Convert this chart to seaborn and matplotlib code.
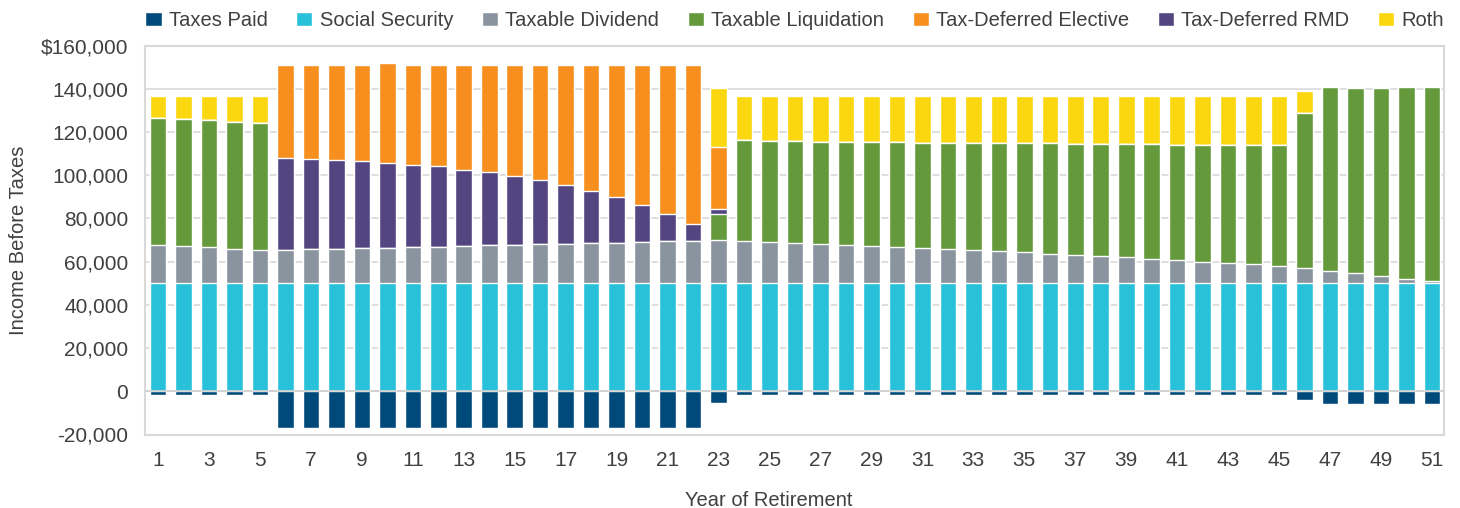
import pandas as pd
import seaborn as sns
import matplotlib.pyplot as plt
from matplotlib.patches import Patch
from matplotlib.ticker import FuncFormatter

# Year of retirement
years = list(range(1, 52))

# Income components, $ thousands
taxes_paid = [-1.8, -1.8, -1.8, -1.8, -1.8,
              -17.2, -17.2, -17.2, -17.2, -17.2, -17.2, -17.2, -17.2,
              -16.8, -16.8, -16.8, -16.8, -16.8, -16.8, -16.8, -16.8, -16.8,
              -5.5,
              -1.8, -1.8, -1.8, -1.8, -1.8, -1.8, -1.8, -1.8, -1.8, -1.8, -1.8,
              -1.8, -1.8, -1.8, -1.8, -1.8, -1.8, -1.8, -1.8, -1.8, -1.8, -1.8,
              -4.2,
              -6.0, -6.0, -6.0, -6.0, -6.0]

social_security = [50, 50, 50, 50, 50, 50, 50, 50, 50, 50,
                   50, 50, 50, 50, 50, 50, 50, 50, 50, 50,
                   50, 50, 50, 50, 50, 50, 50, 50, 50, 50,
                   50, 50, 50, 50, 50, 50, 50, 50, 50, 50,
                   50, 50, 50, 50, 50, 50, 50, 50, 50, 50, 50]

taxable_dividend = [17.7, 17.2, 16.8, 15.8, 15.4, 15.4, 15.8, 15.8, 16.3, 16.3,
                    16.8, 16.8, 17.2, 17.7, 17.7, 18.2, 18.2, 18.6, 18.6, 19.1,
                    19.5, 19.5, 20.0, 19.5, 19.1, 18.6, 18.2, 17.7, 17.2, 16.8,
                    16.3, 15.8, 15.4, 14.9, 14.5, 13.5, 13.1, 12.6, 12.2, 11.2,
                    10.8, 9.8, 9.4, 8.9, 8.0, 7.1, 5.7, 4.8, 3.4, 2.0, 1.1]

taxable_liquidation = [58.6, 58.6, 58.6, 58.7, 58.6,
                       0, 0, 0, 0, 0, 0, 0, 0, 0, 0, 0, 0, 0, 0, 0, 0, 0,
                       12.0,
                       46.7, 46.6, 47.1, 47.0, 47.5, 48.0, 48.4, 48.5, 49.0, 49.4, 49.9,
                       50.3, 51.3, 51.2, 51.7, 52.1, 53.1, 53.0, 54.0, 54.4, 54.9, 55.8,
                       71.7, 84.9, 85.4, 86.8, 88.6, 89.5]

tax_deferred_rmd = [0, 0, 0, 0, 0,
                    42.4, 41.6, 41.1, 40.2, 39.2, 37.8, 37.4, 35.1, 33.7, 31.8,
                    29.5, 27.2, 24.0, 21.2, 17.1, 12.5, 7.9,
                    2.3,
                    0, 0, 0, 0, 0, 0, 0, 0, 0, 0, 0, 0, 0, 0,
                    0, 0, 0, 0, 0, 0, 0, 0, 0, 0, 0, 0, 0, 0]

tax_deferred_elective = [0, 0, 0, 0, 0,
                         43.4, 43.8, 44.3, 44.7, 46.2, 46.6, 47.0, 48.9, 49.8, 51.7,
                         53.5, 55.8, 58.6, 61.4, 65.0, 69.2, 73.8,
                         28.6,
                         0, 0, 0, 0, 0, 0, 0, 0, 0, 0, 0, 0, 0, 0,
                         0, 0, 0, 0, 0, 0, 0, 0, 0, 0, 0, 0, 0, 0]

roth = [10.2, 10.7, 11.1, 12.0, 12.5,
        0, 0, 0, 0, 0, 0, 0, 0, 0, 0, 0, 0, 0, 0, 0, 0, 0,
        27.3,
        20.3, 20.8, 20.8, 21.3, 21.3, 21.3, 21.3, 21.7, 21.7, 21.7, 21.7,
        21.7, 21.7, 22.2, 22.2, 22.2, 22.2, 22.7, 22.7, 22.7, 22.7, 22.7,
        10.0,
        0, 0, 0, 0, 0]

legend_order = ["Taxes Paid", "Social Security", "Taxable Dividend",
                "Taxable Liquidation", "Tax-Deferred Elective",
                "Tax-Deferred RMD", "Roth"]
# stacking order, bottom to top
stack_order = ["Social Security", "Taxable Dividend", "Taxable Liquidation",
               "Tax-Deferred RMD", "Tax-Deferred Elective", "Roth"]
colors = {
    "Taxes Paid": "#004a7b",
    "Social Security": "#29c0d9",
    "Taxable Dividend": "#8a949f",
    "Taxable Liquidation": "#64993c",
    "Tax-Deferred Elective": "#f68f1e",
    "Tax-Deferred RMD": "#534580",
    "Roth": "#fbd70f",
}

df = pd.DataFrame({
    "Taxes Paid": taxes_paid,
    "Social Security": social_security,
    "Taxable Dividend": taxable_dividend,
    "Taxable Liquidation": taxable_liquidation,
    "Tax-Deferred RMD": tax_deferred_rmd,
    "Tax-Deferred Elective": tax_deferred_elective,
    "Roth": roth,
}) * 1000
df["year"] = years

tops = df[stack_order].cumsum(axis=1)

sns.set_style("white")
plt.rcParams["font.family"] = ["Liberation Sans", "DejaVu Sans"]
text_col = "#404040"

fig, ax = plt.subplots(figsize=(14.6, 5.08), dpi=100)
fig.subplots_adjust(left=145 / 1460, right=1444 / 1460,
                    top=1 - 45.5 / 508, bottom=1 - 434.5 / 508)

# stacked bars: draw cumulative totals from the top layer down
for name in reversed(stack_order):
    sns.barplot(x=df["year"], y=tops[name], color=colors[name], width=0.65,
                saturation=1, errorbar=None, ax=ax, zorder=2)
sns.barplot(x=df["year"], y=df["Taxes Paid"], color=colors["Taxes Paid"],
            width=0.65, saturation=1, errorbar=None, ax=ax, zorder=2)

ax.axhline(0, color="#d0d0d0", lw=1.2, zorder=3)

ax.set_ylim(-20000, 160000)
ax.set_yticks(range(-20000, 160001, 20000))
ax.yaxis.set_major_formatter(FuncFormatter(
    lambda v, p: "$160,000" if v == 160000 else f"{v:,.0f}"))
ax.set_xlim(-0.51, 50.47)
ax.set_xticks(range(0, 51, 2))
ax.set_xticklabels(years[::2])

ax.yaxis.grid(True, color="#d9d9d9", lw=1.2)
ax.set_axisbelow(True)
for s in ax.spines.values():
    s.set_color("#d9d9d9")
    s.set_linewidth(1.5)

ax.tick_params(axis="both", length=0, labelsize=15, labelcolor=text_col)
ax.tick_params(axis="y", pad=12)
ax.tick_params(axis="x", pad=12)

ax.set_xlabel("Year of Retirement", fontsize=14.5, color=text_col)
ax.xaxis.set_label_coords(0.48, -0.145)
ax.set_ylabel("Income Before Taxes", fontsize=14.5, color=text_col, labelpad=9)

handles = [Patch(facecolor=colors[n], label=n) for n in legend_order]
ax.legend(handles=handles, loc="center", bbox_to_anchor=(0, 1.064, 1, 0),
          mode="expand", ncol=7, frameon=False, fontsize=14.5,
          handlelength=0.82, handleheight=0.75, handletextpad=0.35,
          borderaxespad=0, borderpad=0, labelcolor=text_col)

plt.savefig("out.png", dpi=100)
